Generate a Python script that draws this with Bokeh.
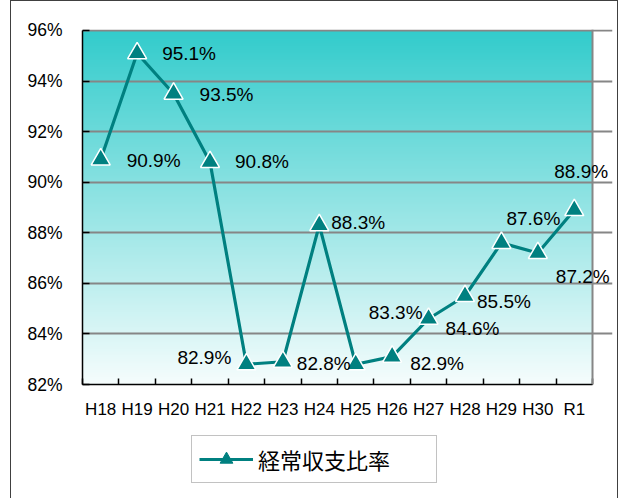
import numpy as np
from bokeh.plotting import figure
from bokeh.layouts import column
from bokeh.models import (ColumnDataSource, FixedTicker, PrintfTickFormatter,
                          CustomJSTickFormatter, LabelSet, Legend, LegendItem, Span)
from bokeh.core.properties import value
from bokeh.embed import file_html
from bokeh.resources import INLINE

# ---- data ----
years = ["H18", "H19", "H20", "H21", "H22", "H23", "H24",
         "H25", "H26", "H27", "H28", "H29", "H30", "R1"]
ratio = [90.9, 95.1, 93.5, 90.8, 82.8, 82.9, 88.3,
         82.8, 83.1, 84.6, 85.5, 87.6, 87.2, 88.9]
label_text = ["90.9%", "95.1%", "93.5%", "90.8%", "82.9%", "82.8%", "88.3%",
              "83.3%", "82.9%", "84.6%", "85.5%", "87.6%", "87.2%", "88.9%"]
y_ticks = [82, 84, 86, 88, 90, 92, 94, 96]
series_name = "経常収支比率"

# label placement (screen px, style only)
lab_dx = [26, 25, 26, 25, -69, 14, 12, 13, 18, 17, 12, 5, 18, -20]
lab_dy = [-1, 0, -1, 0, 7, -2, 3, 52, -7, -10, -6, 24, -23, 39]

TEAL = "#008080"
GRID = "#868686"

# layout constants (px)
CANVAS_W = 606
PLOT_W, FRAME_W = 510, 530      # data area vs frame width (frame wider so labels are not clipped)
PLOT_H, FRAME_H = 357, 358
TOP_H = 420
LEG_H = 77

n = len(years)
xc = np.arange(n) + 0.5
x_end = n * FRAME_W / PLOT_W
y_lo, y_hi = y_ticks[0], y_ticks[-1]
y_top = y_lo + (y_hi - y_lo) * FRAME_H / PLOT_H

src = ColumnDataSource(dict(x=xc, y=ratio, txt=label_text, dx=lab_dx, dy=lab_dy))

p = figure(width=CANVAS_W, height=TOP_H, x_range=(0, x_end), y_range=(y_lo, y_top),
           output_backend="svg", toolbar_location=None,
           min_border_left=71, min_border_right=CANVAS_W - 71 - FRAME_W,
           min_border_top=28, min_border_bottom=TOP_H - 28 - FRAME_H)
p.background_fill_color = "white"
p.border_fill_color = "white"
p.outline_line_color = None

# gradient background (teal top -> near white bottom)
rows = 360
t = np.linspace(0, 1, rows)[:, None]
top_c = np.array([51, 204, 204])
bot_c = np.array([246, 253, 253])
cols = (bot_c + (top_c - bot_c) * t).astype(np.uint8)
img = np.empty((rows, 1), dtype=np.uint32)
view = img.view(dtype=np.uint8).reshape((rows, 1, 4))
view[:, 0, 0] = cols[:, 0]
view[:, 0, 1] = cols[:, 1]
view[:, 0, 2] = cols[:, 2]
view[:, 0, 3] = 255
p.image_rgba(image=[img], x=0, y=y_lo, dw=n, dh=y_hi - y_lo, level="image")

# grid
p.xgrid.visible = False
p.ygrid.ticker = y_ticks[1:]
p.ygrid.bounds = (0, n)
p.ygrid.grid_line_color = GRID
p.ygrid.grid_line_width = 2
p.add_layout(Span(location=n, dimension="height", line_color=GRID, line_width=2))

# y axis
p.yaxis.ticker = y_ticks
p.yaxis.bounds = (y_lo, y_hi)
p.yaxis.formatter = PrintfTickFormatter(format="%d%%")
p.yaxis.axis_line_color = "black"
p.yaxis.axis_line_width = 1.5
p.yaxis.major_tick_in = 7
p.yaxis.major_tick_out = 0
p.yaxis.major_tick_line_color = "black"
p.yaxis.major_tick_line_width = 1.5
p.yaxis.minor_tick_line_color = None
p.yaxis.major_label_standoff = 20
p.yaxis.major_label_text_font = "Liberation Sans"
p.yaxis.major_label_text_font_size = "17.5px"
p.yaxis.major_label_text_color = "black"

# x axis
p.xaxis.ticker = FixedTicker(ticks=list(xc), minor_ticks=list(np.arange(n + 1)))
p.xaxis.bounds = (0, n)
p.xaxis.formatter = CustomJSTickFormatter(args=dict(cats=years),
                                          code="return cats[Math.floor(tick)] || '';")
p.xaxis.axis_line_color = "black"
p.xaxis.axis_line_width = 1.5
p.xaxis.major_tick_in = 0
p.xaxis.major_tick_out = 0
p.xaxis.minor_tick_in = 6
p.xaxis.minor_tick_out = 0
p.xaxis.minor_tick_line_color = "black"
p.xaxis.minor_tick_line_width = 1.5
p.xaxis.major_label_standoff = 15
p.xaxis.major_label_text_font = "Liberation Sans"
p.xaxis.major_label_text_font_size = "17px"
p.xaxis.major_label_text_color = "black"

# series
line_kw = dict(line_color=TEAL, line_width=3.2)
mark_kw = dict(marker="triangle", size=19, fill_color=TEAL, line_color="white", line_width=1.5)
p.line("x", "y", source=src, **line_kw)
p.scatter("x", "y", source=src, **mark_kw)

labels = LabelSet(x="x", y="y", text="txt", source=src,
                  x_offset="dx", y_offset="dy",
                  text_align="left", text_baseline="middle",
                  text_font=value("Liberation Sans"), text_font_size="19px",
                  text_color="black")
p.add_layout(labels)

# ---- legend strip (second figure; series drawn out of view so only the legend shows) ----
f2 = figure(width=CANVAS_W, height=LEG_H, x_range=(0, 1), y_range=(0, 1),
            output_backend="svg", toolbar_location=None,
            x_axis_location=None, y_axis_location=None,
            min_border=0, min_border_left=0, min_border_right=0,
            min_border_top=0, min_border_bottom=0)
f2.grid.visible = False
f2.outline_line_color = None
f2.background_fill_color = "white"
f2.border_fill_color = "white"
ln2 = f2.line("x", "y", source=src, **line_kw)
sc2 = f2.scatter("x", "y", source=src, marker="triangle", size=12,
                 fill_color=TEAL, line_color=TEAL, line_width=1)

legend = Legend(items=[LegendItem(label=series_name, renderers=[ln2, sc2])],
                location=(109, 15), orientation="horizontal",
                border_line_color=GRID, border_line_width=1.5,
                background_fill_color="white", background_fill_alpha=1,
                padding=7, margin=0, spacing=0,
                glyph_width=54, glyph_height=32, label_standoff=5, label_width=171,
                label_text_font="Noto Sans CJK JP", label_text_font_size="22px",
                label_text_color="black")
f2.add_layout(legend, "center")

layout = column(p, f2, spacing=0, margin=(0, 0, 0, 10),
                styles={"border-top": "1px solid #404040",
                        "border-left": "1px solid #404040",
                        "border-right": "1px solid #404040"})

open("out.html", "w").write(file_html(layout, INLINE))
